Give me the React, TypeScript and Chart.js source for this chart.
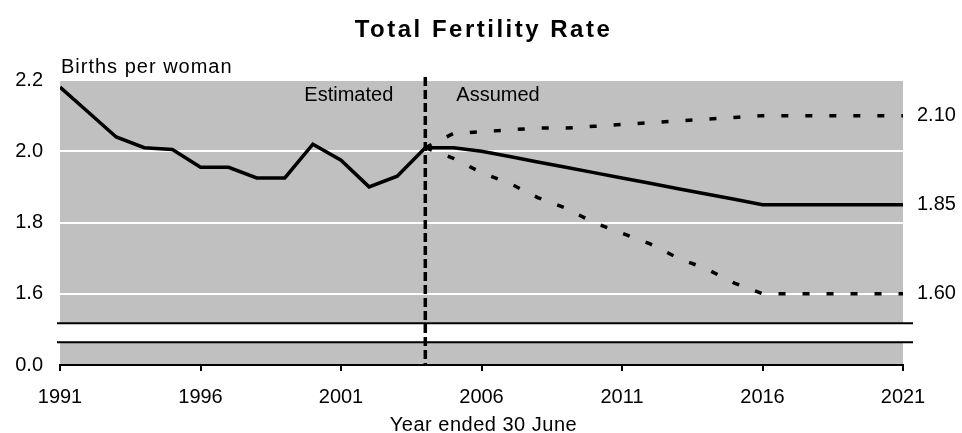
import React, { useEffect, useRef } from 'react';
import { Chart, registerables } from 'chart.js';

Chart.register(...registerables);

// ---- Data ----
const ESTIMATED_YEARS = [1991, 1992, 1993, 1994, 1995, 1996, 1997, 1998, 1999, 2000, 2001, 2002, 2003, 2004];
const ESTIMATED_TFR = [2.18, 2.11, 2.04, 2.01, 2.005, 1.955, 1.955, 1.925, 1.925, 2.02, 1.975, 1.9, 1.93, 2.01];

const PROJECTION_YEARS = [2004, 2005, 2006, 2007, 2008, 2009, 2010, 2011, 2012, 2013, 2014, 2015, 2016, 2017, 2018, 2019, 2020, 2021];
const MEDIUM_TFR = [2.01, 2.01, 2.0, 1.985, 1.97, 1.955, 1.94, 1.925, 1.91, 1.895, 1.88, 1.865, 1.85, 1.85, 1.85, 1.85, 1.85, 1.85];
const HIGH_TFR = [2.01, 2.05, 2.055, 2.06, 2.065, 2.065, 2.07, 2.075, 2.08, 2.085, 2.09, 2.095, 2.1, 2.1, 2.1, 2.1, 2.1, 2.1];
const LOW_TFR = [2.01, 1.98, 1.94, 1.91, 1.87, 1.84, 1.8, 1.77, 1.74, 1.7, 1.67, 1.63, 1.6, 1.6, 1.6, 1.6, 1.6, 1.6];

const X_TICKS = [1991, 1996, 2001, 2006, 2011, 2016, 2021];
const Y_TICK_VALUES = [1.4, 1.6, 1.8, 2.0, 2.2];
const Y_TICK_LABELS = ['0.0', '1.6', '1.8', '2.0', '2.2'];
const RIGHT_TICK_VALUES = [1.6, 1.85, 2.1];
const RIGHT_TICK_LABELS = ['1.60', '1.85', '2.10'];

const DIVIDER_YEAR = 2004;
const BREAK_RANGE = [1.464, 1.517];

const TITLE = 'Total Fertility Rate';
const Y_TITLE = 'Births per woman';
const X_TITLE = 'Year ended 30 June';
const LEFT_NOTE = 'Estimated';
const RIGHT_NOTE = 'Assumed';

const FONT = "'Liberation Sans', Arial, sans-serif";
const GRAY = '#c0c0c0';

const toPoints = (xs: number[], ys: number[]) => xs.map((x, i) => ({ x, y: ys[i] }));

const decorPlugin = {
  id: 'decor',
  beforeDraw(chart: any) {
    const { ctx, chartArea: a } = chart;
    ctx.save();
    ctx.fillStyle = GRAY;
    ctx.fillRect(a.left, a.top, a.right - a.left, a.bottom - a.top);
    ctx.restore();
  },
  beforeDatasetsDraw(chart: any) {
    const { ctx, chartArea: a, scales } = chart;
    const yTop = scales.y.getPixelForValue(BREAK_RANGE[1]);
    const yBot = scales.y.getPixelForValue(BREAK_RANGE[0]);
    ctx.save();
    ctx.fillStyle = '#ffffff';
    ctx.fillRect(a.left, yTop, a.right - a.left, yBot - yTop);
    ctx.strokeStyle = '#000';
    ctx.lineWidth = 2;
    ctx.beginPath();
    ctx.moveTo(a.left - 3, yTop);
    ctx.lineTo(a.right + 10, yTop);
    ctx.moveTo(a.left - 3, yBot);
    ctx.lineTo(a.right + 10, yBot);
    ctx.stroke();
    ctx.restore();
  },
  afterDatasetsDraw(chart: any) {
    const { ctx, chartArea: a, scales } = chart;
    const x = scales.x.getPixelForValue(DIVIDER_YEAR);
    ctx.save();
    ctx.strokeStyle = '#000';
    ctx.lineWidth = 3.5;
    ctx.setLineDash([9, 4]);
    ctx.beginPath();
    ctx.moveTo(x, a.top - 3);
    ctx.lineTo(x, a.bottom);
    ctx.stroke();
    ctx.restore();
  },
  afterDraw(chart: any) {
    const { ctx, chartArea: a, scales } = chart;
    const divX = scales.x.getPixelForValue(DIVIDER_YEAR);
    ctx.save();
    ctx.fillStyle = '#000';
    ctx.textBaseline = 'alphabetic';

    // Title
    ctx.font = `bold 24px ${FONT}`;
    (ctx as any).letterSpacing = '2.5px';
    ctx.textAlign = 'center';
    ctx.fillText(TITLE, (a.left + a.right) / 2 + 2, 37);

    // Y title
    ctx.font = `20px ${FONT}`;
    (ctx as any).letterSpacing = '1px';
    ctx.textAlign = 'left';
    ctx.fillText(Y_TITLE, a.left + 1, 73);

    // Estimated / Assumed
    (ctx as any).letterSpacing = '0px';
    ctx.textAlign = 'right';
    ctx.fillText(LEFT_NOTE, divX - 32, 101);
    ctx.textAlign = 'left';
    ctx.fillText(RIGHT_NOTE, divX + 31, 101);

    // X title
    (ctx as any).letterSpacing = '0.5px';
    ctx.textAlign = 'center';
    ctx.fillText(X_TITLE, (a.left + a.right) / 2 + 2, 431);
    ctx.restore();
  },
};

export default function App() {
  const canvasRef = useRef<HTMLCanvasElement | null>(null);

  useEffect(() => {
    if (!canvasRef.current) return;
    const lineCommon = {
      borderColor: '#000',
      backgroundColor: '#000',
      borderWidth: 3.5,
      pointRadius: 0,
      tension: 0,
      fill: false,
    };
    const chart = new Chart(canvasRef.current, {
      type: 'line',
      data: {
        datasets: [
          { ...lineCommon, label: 'Estimated', data: toPoints(ESTIMATED_YEARS, ESTIMATED_TFR) },
          { ...lineCommon, label: 'Medium', data: toPoints(PROJECTION_YEARS, MEDIUM_TFR) },
          { ...lineCommon, label: 'High', data: toPoints(PROJECTION_YEARS, HIGH_TFR), borderDash: [7, 17] },
          { ...lineCommon, label: 'Low', data: toPoints(PROJECTION_YEARS, LOW_TFR), borderDash: [7, 17] },
        ],
      },
      options: {
        responsive: false,
        animation: false,
        devicePixelRatio: 1,
        layout: { padding: { top: 80, bottom: 0, left: 0, right: 0 } },
        plugins: {
          legend: { display: false },
          tooltip: { enabled: false },
          title: { display: false },
        },
        scales: {
          x: {
            type: 'linear',
            min: 1991,
            max: 2021,
            afterBuildTicks: (scale: any) => {
              scale.ticks = X_TICKS.map((v) => ({ value: v }));
            },
            afterFit: (scale: any) => {
              scale.height = 68;
            },
            ticks: {
              autoSkip: false,
              maxRotation: 0,
              padding: 14,
              color: '#000',
              font: { family: FONT, size: 20 },
              callback: (v: any) => String(v),
            },
            grid: { drawOnChartArea: false, drawTicks: true, tickLength: 6, color: '#000', lineWidth: 2 },
            border: { display: true, color: '#000', width: 2 },
          },
          y: {
            type: 'linear',
            position: 'left',
            min: 1.4,
            max: 2.2,
            afterBuildTicks: (scale: any) => {
              scale.ticks = Y_TICK_VALUES.map((v) => ({ value: v }));
            },
            afterFit: (scale: any) => {
              scale.width = 60;
            },
            ticks: {
              autoSkip: false,
              padding: 17,
              color: '#000',
              font: { family: FONT, size: 20 },
              callback: (_v: any, i: number) => Y_TICK_LABELS[i],
            },
            grid: {
              drawTicks: false,
              lineWidth: 2,
              color: (c: any) => (c.tick && c.tick.value === Y_TICK_VALUES[0] ? 'rgba(0,0,0,0)' : '#ffffff'),
            },
            border: { display: false },
          },
          y2: {
            type: 'linear',
            position: 'right',
            min: 1.4,
            max: 2.2,
            afterBuildTicks: (scale: any) => {
              scale.ticks = RIGHT_TICK_VALUES.map((v) => ({ value: v }));
            },
            afterFit: (scale: any) => {
              scale.width = 59;
            },
            ticks: {
              autoSkip: false,
              padding: 14,
              color: '#000',
              font: { family: FONT, size: 20 },
              callback: (_v: any, i: number) => RIGHT_TICK_LABELS[i],
            },
            grid: { display: false, drawTicks: false },
            border: { display: false },
          },
        },
      },
      plugins: [decorPlugin],
    } as any);
    return () => chart.destroy();
  }, []);

  return (
    <div style={{ position: 'absolute', left: 0, top: 0, width: 962, height: 433 }}>
      <canvas ref={canvasRef} width={962} height={433} style={{ display: 'block' }} />
    </div>
  );
}
